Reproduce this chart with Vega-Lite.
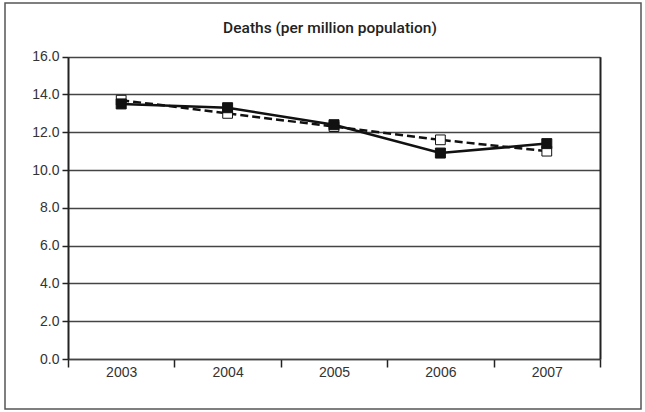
{
  "$schema": "https://vega.github.io/schema/vega-lite/v6.json",
  "width": 636,
  "height": 406,
  "padding": {"left": 5, "top": 3, "right": 4, "bottom": 3},
  "background": "white",
  "title": {
    "text": "Deaths (per million population)",
    "font": "Roboto",
    "fontSize": 15.5,
    "fontWeight": 500,
    "color": "#222222",
    "anchor": "middle",
    "frame": "group",
    "orient": "top",
    "offset": -45,
    "baseline": "alphabetic",
    "dx": 7
  },
  "data": {
    "values": [
      {"year": "2003", "series": "A", "value": 13.5},
      {"year": "2004", "series": "A", "value": 13.3},
      {"year": "2005", "series": "A", "value": 12.4},
      {"year": "2006", "series": "A", "value": 10.9},
      {"year": "2007", "series": "A", "value": 11.4},
      {"year": "2003", "series": "B", "value": 13.7},
      {"year": "2004", "series": "B", "value": 13.0},
      {"year": "2005", "series": "B", "value": 12.3},
      {"year": "2006", "series": "B", "value": 11.6},
      {"year": "2007", "series": "B", "value": 11.0}
    ]
  },
  "encoding": {
    "x": {
      "field": "year",
      "type": "ordinal",
      "scale": {"range": [63, 595], "paddingInner": 0, "paddingOuter": 0},
      "axis": {
        "title": null,
        "orient": "bottom",
        "offset": -50,
        "labelAngle": 0,
        "tickBand": "extent",
        "tickSize": 8,
        "labelPadding": -2,
        "grid": false,
        "domainColor": "#444444",
        "domainWidth": 1.5
      }
    },
    "y": {
      "field": "value",
      "type": "quantitative",
      "scale": {"domain": [0, 16], "range": [356, 53.7], "nice": false, "zero": true},
      "axis": null
    }
  },
  "layer": [
    {
      "transform": [{"filter": "datum.series === 'B'"}],
      "mark": {"type": "line", "color": "#111111", "strokeWidth": 2.5, "strokeDash": [8, 4]},
      "encoding": {
        "y": {
          "field": "value",
          "type": "quantitative",
          "axis": {
            "title": null,
            "orient": "left",
            "offset": -63,
            "values": [0, 2, 4, 6, 8, 10, 12, 14, 16],
            "format": ".1f",
            "grid": true,
            "tickSize": 6,
            "labelPadding": 3
          }
        }
      }
    },
    {
      "transform": [{"filter": "datum.series === 'B'"}],
      "mark": {"type": "point", "shape": "square", "size": 95, "filled": true, "fill": "white", "stroke": "#111111", "strokeWidth": 1, "opacity": 1},
      "encoding": {}
    },
    {
      "transform": [{"filter": "datum.series === 'A'"}],
      "mark": {"type": "line", "color": "#111111", "strokeWidth": 2.5},
      "encoding": {
        "y": {
          "field": "value",
          "type": "quantitative",
          "axis": {
            "title": null,
            "orient": "right",
            "offset": -41,
            "labels": false,
            "ticks": false,
            "grid": false,
            "values": [0, 16]
          }
        }
      }
    },
    {
      "transform": [{"filter": "datum.series === 'A'"}],
      "mark": {"type": "point", "shape": "square", "size": 100, "filled": true, "fill": "#111111", "stroke": "#111111", "strokeWidth": 1, "opacity": 1},
      "encoding": {}
    }
  ],
  "resolve": {"axis": {"y": "independent"}},
  "config": {
    "view": {"stroke": "#555555", "strokeWidth": 1.5},
    "axis": {
      "domainColor": "#222222",
      "domainWidth": 2,
      "tickColor": "#222222",
      "tickWidth": 1.5,
      "gridColor": "#444444",
      "gridWidth": 1.5,
      "gridOpacity": 1,
      "labelColor": "#333333",
      "labelFont": "Liberation Sans",
      "labelFontSize": 14
    }
  }
}
